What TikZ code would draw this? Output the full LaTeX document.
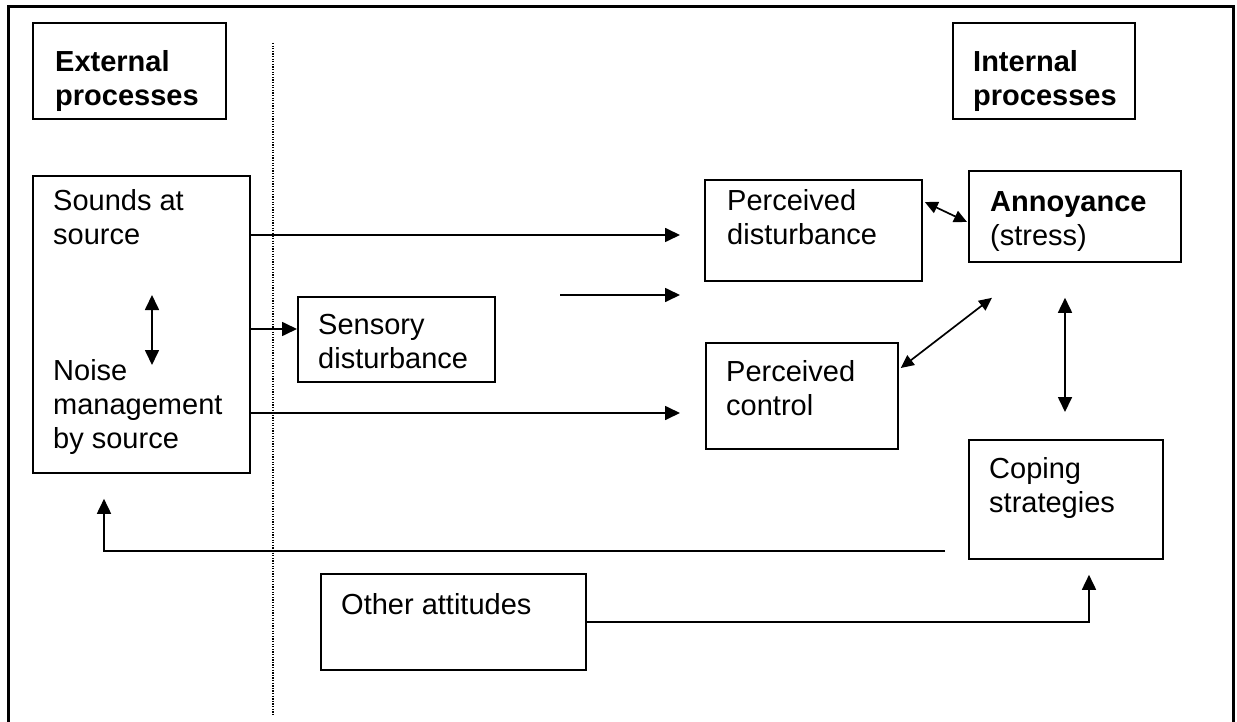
\documentclass[tikz,border=0pt]{standalone}
\usepackage{fontspec}
\setmainfont{Liberation Sans}
\usetikzlibrary{arrows.meta,positioning,calc}

\tikzset{
  box/.style={draw,line width=1.8pt,inner sep=0pt,anchor=north west},
  lbl/.style={font=\fontsize{29}{34}\selectfont,align=left,inner sep=0pt,anchor=north west},
  blbl/.style={lbl,font=\fontsize{29}{34}\selectfont\bfseries},
  arr/.style={line width=1.7pt,-{Triangle[length=15pt,width=14pt]}},
  darr/.style={line width=1.7pt,{Triangle[length=15pt,width=14pt]}-{Triangle[length=15pt,width=14pt]}},
  sarr/.style={line width=1.7pt,{Triangle[length=13pt,width=12pt]}-{Triangle[length=13pt,width=12pt]}},
}

\begin{document}
\begin{tikzpicture}[x=1pt,y=-1pt]
  \useasboundingbox (0,0) rectangle (1237,722);
%rahmen
  \draw[line width=3pt] (8,740) -- (8,7) -- (1233,7) -- (1233,740);
  \draw[line width=1.5pt,dash pattern=on 1.3pt off 1.3pt] (273,43) -- (273,715);

%kaesten
  \node[box,minimum width=193,minimum height=96] (ext) at (32,22) {};
  \node[box,minimum width=182,minimum height=96] (int) at (952,22) {};
  \node[box,minimum width=217,minimum height=297] (src) at (32,175) {};
  \node[box,minimum width=197,minimum height=85] (sens) at (297,296) {};
  \node[box,minimum width=217,minimum height=101] (pd) at (704,179) {};
  \node[box,minimum width=212,minimum height=91] (ann) at (968,170) {};
  \node[box,minimum width=192,minimum height=106] (pc) at (705,342) {};
  \node[box,minimum width=194,minimum height=119] (cope) at (968,439) {};
  \node[box,minimum width=265,minimum height=96] (oth) at (320,573) {};

%texte
  \node[blbl] (extlbl) at ([shift={(23,28)}]ext.north west) {External\\processes};
  \node[blbl] (intlbl) at ([shift={(21,28)}]int.north west) {Internal\\processes};
  \node[lbl] (srclbl) at ([shift={(21,14)}]src.north west) {Sounds at\\source};
  \node[lbl] (mgmtlbl) at ([shift={(21,184)}]src.north west) {Noise\\management\\by source};
  \node[lbl] (senslbl) at ([shift={(21,18)}]sens.north west) {Sensory\\disturbance};
  \node[lbl] (pdlbl) at ([shift={(23,10)}]pd.north west) {Perceived\\disturbance};
  \node[lbl] (annlbl) at ([shift={(22,21)}]ann.north west) {\textbf{Annoyance}\\(stress)};
  \node[lbl] (pclbl) at ([shift={(21,18)}]pc.north west) {Perceived\\control};
  \node[lbl] (copelbl) at ([shift={(21,18)}]cope.north west) {Coping\\strategies};
  \node[lbl] (othlbl) at ([shift={(21,20)}]oth.north west) {Other attitudes};

%pfeile
  \coordinate (pdin) at ($(pd.north west)+(-24,56)$);
  \coordinate (midtip) at ($(pd.north west)+(-24,116)$);
  \coordinate (midtail) at ($(midtip)+(-120,0)$);
  \coordinate (pcin) at ($(pc.north west)+(-25,71)$);
  \coordinate (sensin) at ($(sens.north west)+(0,33)$);
  \draw[arr] (src.east |- pdin) -- (pdin);
  \draw[arr] (midtail) -- (midtip);
  \draw[arr] (src.east |- pcin) -- (pcin);
  \draw[arr] (src.east |- sensin) -- (sensin);
  \draw[darr] ($(src.north west)+(120,120)$) -- ($(src.north west)+(120,190)$);

  \draw[sarr] ($(pd.north east)+(2,23)$) -- ($(ann.north west)+(-1,52)$);
  \draw[sarr] ($(pc.north east)+(2,26)$) -- ($(ann.south west)+(24,35)$);
  \draw[darr] ($(ann.south west)+(97,35)$) -- ($(cope.north west)+(97,-27)$);

  \coordinate (copein) at ($(cope.south west)+(121,15)$);
  \draw[arr] (oth.east) -- (oth.east -| copein) -- (copein);
  \coordinate (fbstart) at ($(cope.south west)+(-23,-9)$);
  \coordinate (srcin) at ($(src.south west)+(72,25)$);
  \draw[arr] (fbstart) -- (fbstart -| srcin) -- (srcin);
\end{tikzpicture}
\end{document}
